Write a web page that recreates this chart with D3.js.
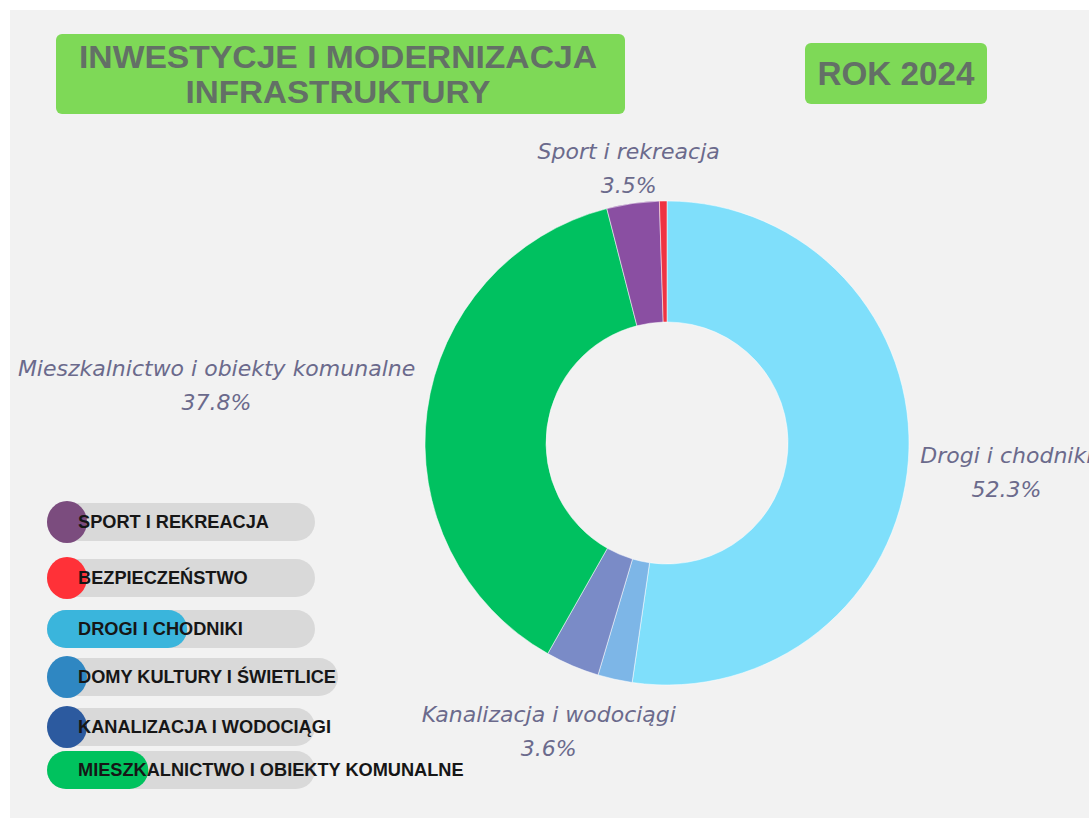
<!DOCTYPE html>
<html>
<head>
<meta charset="utf-8">
<script src="https://cdn.jsdelivr.net/npm/d3@7"></script>
<style>
  body { margin: 0; background: #ffffff; }
  svg { display: block; }
</style>
</head>
<body>
<div id="chart"></div>
<script>
// data
const sliceNames = ["Drogi i chodniki", "Domy kultury i świetlice", "Kanalizacja i wodociągi",
                    "Mieszkalnictwo i obiekty komunalne", "Sport i rekreacja", "Bezpieczeństwo"];
const sliceValues = [52.3, 2.3, 3.6, 37.8, 3.5, 0.5];
const sliceColors = ["#7fdffb", "#7db6e7", "#7a8bc7", "#00c160", "#8a4fa2", "#ef3342"];
const labelled = ["Drogi i chodniki", "Kanalizacja i wodociągi", "Mieszkalnictwo i obiekty komunalne", "Sport i rekreacja"];

const legendNames = ["SPORT I REKREACJA", "BEZPIECZEŃSTWO", "DROGI I CHODNIKI",
                     "DOMY KULTURY I ŚWIETLICE", "KANALIZACJA I WODOCIĄGI", "MIESZKALNICTWO I OBIEKTY KOMUNALNE"];
const legendValues = [3.5, 0.5, 52.3, 2.3, 3.6, 37.8];
const legendColors = ["#7b4c7e", "#ff3138", "#3ab5dc", "#2f87c2", "#2c5a9f", "#00c25e"];

const titleLines = ["INWESTYCJE I MODERNIZACJA", "INFRASTRUKTURY"];
const yearText = "ROK 2024";

let w = 1089;
let h = 818;

let svg = d3.select("#chart")
    .append("svg")
    .attr("width", w)
    .attr("height", h);

// page background
svg.append("rect")
    .attr("x", 10).attr("y", 10)
    .attr("width", w - 10).attr("height", h - 10)
    .attr("fill", "#f2f2f2");

// title boxes
const titleFont = "'Liberation Sans', Arial, sans-serif";
svg.append("rect")
    .attr("x", 56).attr("y", 34).attr("width", 569).attr("height", 80)
    .attr("rx", 6).attr("fill", "#7ed957");
svg.selectAll(".title")
    .data(titleLines)
    .enter()
    .append("text")
    .attr("class", "title")
    .attr("x", 338)
    .attr("y", (d, i) => 68 + i * 35)
    .attr("text-anchor", "middle")
    .attr("textLength", (d, i) => i === 0 ? 518 : 305)
    .attr("lengthAdjust", "spacingAndGlyphs")
    .style("font-family", titleFont)
    .style("font-weight", "bold")
    .style("font-size", "31px")
    .attr("fill", "#637066")
    .text(d => d);

svg.append("rect")
    .attr("x", 805).attr("y", 43).attr("width", 182).attr("height", 61)
    .attr("rx", 6).attr("fill", "#7ed957");
svg.append("text")
    .attr("x", 896).attr("y", 85)
    .attr("text-anchor", "middle")
    .attr("textLength", 157)
    .attr("lengthAdjust", "spacingAndGlyphs")
    .style("font-family", titleFont)
    .style("font-weight", "bold")
    .style("font-size", "33px")
    .attr("fill", "#637066")
    .text(yearText);

// donut
const cx = 667, cy = 443, outerR = 242, innerR = 121;
const pie = d3.pie().sort(null).value(d => d.value);
const arcs = pie(sliceNames.map((n, i) => ({ name: n, value: sliceValues[i], color: sliceColors[i] })));
const arc = d3.arc().innerRadius(innerR).outerRadius(outerR);

const donut = svg.append("g").attr("transform", `translate(${cx},${cy})`);
donut.selectAll("path")
    .data(arcs)
    .enter()
    .append("path")
    .attr("d", arc)
    .attr("fill", d => d.data.color)
    .attr("stroke", "#ffffff")
    .attr("stroke-opacity", 0.5)
    .attr("stroke-width", 1);

// label radius / vertical nudge per slice
const labelLayout = {
  "Drogi i chodniki": { r: 254, dy: 12 },
  "Kanalizacja i wodociągi": { r: 302, dy: 11 },
  "Mieszkalnictwo i obiekty komunalne": { r: 254, dy: -24 },
  "Sport i rekreacja": { r: 272, dy: -5 }
};
donut.selectAll(".lbl")
    .data(arcs.filter(d => labelled.includes(d.data.name)))
    .enter()
    .append("text")
    .attr("class", "lbl")
    .attr("text-anchor", "middle")
    .style("font-family", "'DejaVu Sans', sans-serif")
    .style("font-style", "italic")
    .style("font-size", "22px")
    .attr("fill", "#6b6a8c")
    .each(function(d) {
      const a = (d.startAngle + d.endAngle) / 2;
      const L = labelLayout[d.data.name];
      const x = Math.sin(a) * L.r;
      const y = -Math.cos(a) * L.r + L.dy;
      const s = Math.sin(a);
      const anchor = s > 0.6 ? "start" : (s < -0.6 ? "end" : "middle");
      const t = d3.select(this);
      t.append("tspan").attr("class", "nm").text(d.data.name);
      t.append("tspan").attr("class", "pc").text(d3.format(".1f")(d.data.value) + "%");
      // the name decides where the two-line block sits
      const wName = t.select(".nm").node().getComputedTextLength();
      let mx = x;
      if (anchor === "start") mx = x + wName / 2;
      if (anchor === "end") mx = x - wName / 2;
      t.select(".nm").attr("x", mx).attr("y", y - 10);
      t.select(".pc").attr("x", mx).attr("y", y + 24);
    });

// legend
const rowY = [522, 578, 629, 677, 727, 770];
const pillX = 47, pillH = 38;
const pillWidths = [268, 268, 268, 291, 268, 268];
const fillScale = d3.scaleLinear().domain([0, 100]).range([0, 268]);

const legend = svg.append("g");
const rows = legend.selectAll("g")
    .data(legendNames)
    .enter()
    .append("g")
    .attr("transform", (d, i) => `translate(${pillX},${rowY[i] - pillH / 2})`);

rows.append("rect")
    .attr("width", (d, i) => pillWidths[i])
    .attr("height", pillH)
    .attr("rx", pillH / 2)
    .attr("fill", "#d9d9d9");

rows.append("rect")
    .attr("width", (d, i) => Math.max(pillH + 2, fillScale(legendValues[i])))
    .attr("height", (d, i) => fillScale(legendValues[i]) > pillH ? pillH : pillH + 4)
    .attr("y", (d, i) => fillScale(legendValues[i]) > pillH ? 0 : -2)
    .attr("rx", (d, i) => fillScale(legendValues[i]) > pillH ? pillH / 2 : (pillH + 4) / 2)
    .attr("fill", (d, i) => legendColors[i]);

rows.append("text")
    .attr("x", 31)
    .attr("y", pillH / 2 + 6)
    .style("font-family", "'Liberation Sans', Arial, sans-serif")
    .style("font-weight", "bold")
    .style("font-size", "18.2px")
    .attr("fill", "#161616")
    .text(d => d);
</script>
</body>
</html>
